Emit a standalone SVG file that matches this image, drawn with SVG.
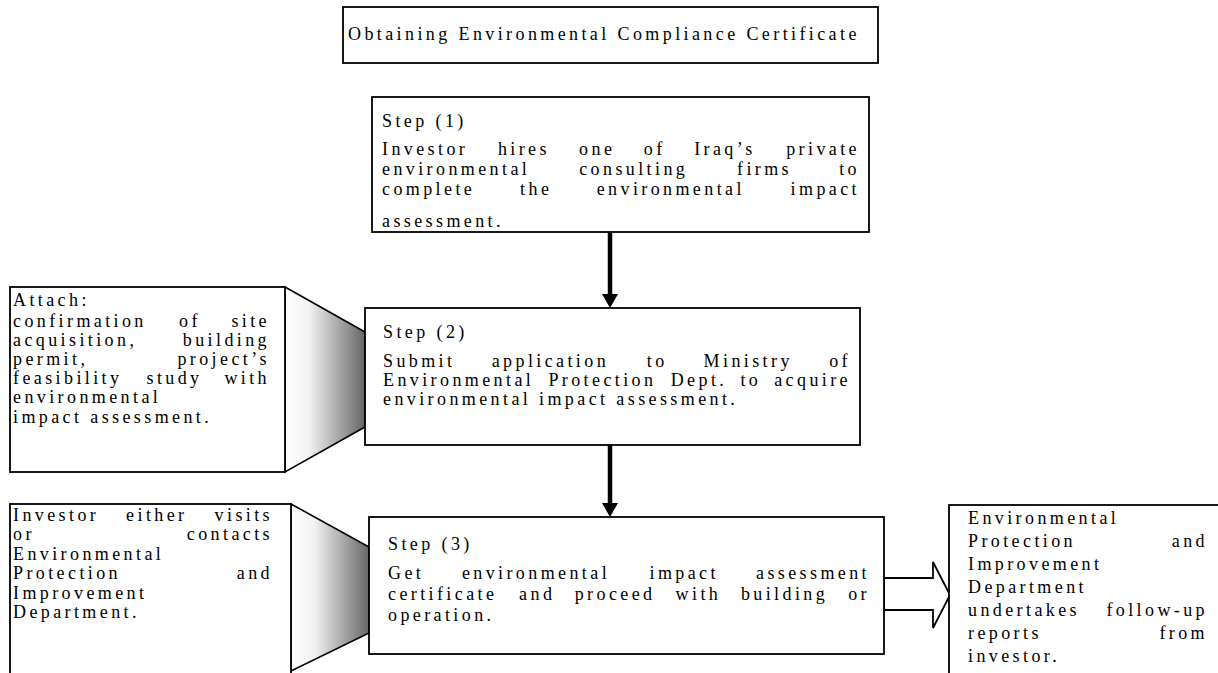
<svg xmlns="http://www.w3.org/2000/svg" width="1218" height="673" viewBox="0 0 1218 673">
<style>
.box{fill:#fff;stroke:#000;stroke-width:1.8}
.t{font-family:"Liberation Serif","Times New Roman",serif;font-size:18px;letter-spacing:3.4px;fill:#000}
.e{text-anchor:end}
.cone{stroke:#000;stroke-width:1.6;fill:url(#g)}
.shaft{stroke:#000;stroke-width:4.5}
.head{fill:#000}
.barrow{fill:#fff;stroke:#000;stroke-width:1.8}
</style>
<defs>
<linearGradient id="g" x1="0" y1="0" x2="1" y2="0">
<stop offset="0" stop-color="#ffffff"/>
<stop offset="0.3" stop-color="#f2f2f2"/>
<stop offset="1" stop-color="#666666"/>
</linearGradient>
</defs>
<rect width="1218" height="673" fill="#fff"/>

<g id="connectors">
<line class="shaft" x1="610" y1="232" x2="610" y2="295"/>
<polygon class="head" points="602,294 618,294 610,308"/>
<line class="shaft" x1="610" y1="445" x2="610" y2="504"/>
<polygon class="head" points="602,503 618,503 610,517"/>
<polygon class="cone" points="285,287 365,332 365,427 285,472"/>
<polygon class="cone" points="291,504 369,547 369,633 291,671"/>
<polygon class="barrow" points="884,578 933,578 933,562 950,595 933,628 933,610 884,610"/>
</g>

<g id="title">
<rect class="box" x="343" y="7" width="535" height="56"/>
<text class="t" x="348" y="40">Obtaining Environmental Compliance Certificate</text>
</g>

<g id="step1">
<rect class="box" x="372" y="97" width="497" height="135"/>
<text class="t" x="382" y="127">Step (1)</text>
<text class="t" y="155"><tspan x="382">Investor</tspan><tspan x="497.9">hires</tspan><tspan x="579.1">one</tspan><tspan x="643.8">of</tspan><tspan x="694.2">Iraq’s</tspan><tspan class="e" x="860">private</tspan></text>
<text class="t" y="175"><tspan x="382">environmental</tspan><tspan x="579.2">consulting</tspan><tspan x="737">firms</tspan><tspan class="e" x="860">to</tspan></text>
<text class="t" y="195"><tspan x="382">complete</tspan><tspan x="520.1">the</tspan><tspan x="596.7">environmental</tspan><tspan class="e" x="860">impact</tspan></text>
<text class="t" x="382" y="227">assessment.</text>
</g>

<g id="attach">
<rect class="box" x="10" y="287" width="275" height="185"/>
<text class="t" x="13" y="306">Attach:</text>
<text class="t" y="327"><tspan x="13">confirmation</tspan><tspan x="179">of</tspan><tspan class="e" x="270">site</tspan></text>
<text class="t" y="346"><tspan x="13">acquisition,</tspan><tspan class="e" x="270">building</tspan></text>
<text class="t" y="365"><tspan x="13">permit,</tspan><tspan class="e" x="270">project’s</tspan></text>
<text class="t" y="384"><tspan x="13">feasibility</tspan><tspan x="146.5">study</tspan><tspan class="e" x="270">with</tspan></text>
<text class="t" x="13" y="403">environmental</text>
<text class="t" x="13" y="423">impact assessment.</text>
</g>

<g id="step2">
<rect class="box" x="365" y="308" width="495" height="137"/>
<text class="t" x="383" y="338">Step (2)</text>
<text class="t" y="367"><tspan x="383">Submit</tspan><tspan x="491.7">application</tspan><tspan x="646.8">to</tspan><tspan x="703.6">Ministry</tspan><tspan class="e" x="851">of</tspan></text>
<text class="t" y="386"><tspan x="383">Environmental</tspan><tspan x="548.4">Protection</tspan><tspan x="670.7">Dept.</tspan><tspan x="740.4">to</tspan><tspan class="e" x="851">acquire</tspan></text>
<text class="t" x="383" y="405">environmental impact assessment.</text>
</g>

<g id="investor">
<rect class="box" x="10" y="504" width="281" height="190"/>
<text class="t" y="521"><tspan x="13">Investor</tspan><tspan x="126.1">either</tspan><tspan class="e" x="273">visits</tspan></text>
<text class="t" y="540"><tspan x="13">or</tspan><tspan class="e" x="273">contacts</tspan></text>
<text class="t" x="13" y="560">Environmental</text>
<text class="t" y="579"><tspan x="13">Protection</tspan><tspan class="e" x="273">and</tspan></text>
<text class="t" x="13" y="599">Improvement</text>
<text class="t" x="13" y="618">Department.</text>
</g>

<g id="step3">
<rect class="box" x="369" y="517" width="515" height="137"/>
<text class="t" x="388" y="550">Step (3)</text>
<text class="t" y="579"><tspan x="388">Get</tspan><tspan x="461.9">environmental</tspan><tspan x="649.5">impact</tspan><tspan class="e" x="870">assessment</tspan></text>
<text class="t" y="600"><tspan x="388">certificate</tspan><tspan x="519.1">and</tspan><tspan x="574.7">proceed</tspan><tspan x="675.6">with</tspan><tspan x="740.9">building</tspan><tspan class="e" x="870">or</tspan></text>
<text class="t" x="388" y="621">operation.</text>
</g>

<g id="followup">
<rect class="box" x="949" y="505" width="290" height="200"/>
<text class="t" x="968" y="524">Environmental</text>
<text class="t" y="547"><tspan x="968">Protection</tspan><tspan class="e" x="1208">and</tspan></text>
<text class="t" x="968" y="570">Improvement</text>
<text class="t" x="968" y="593">Department</text>
<text class="t" y="616"><tspan x="968">undertakes</tspan><tspan class="e" x="1208">follow-up</tspan></text>
<text class="t" y="639"><tspan x="968">reports</tspan><tspan class="e" x="1208">from</tspan></text>
<text class="t" x="968" y="662">investor.</text>
</g>
</svg>
